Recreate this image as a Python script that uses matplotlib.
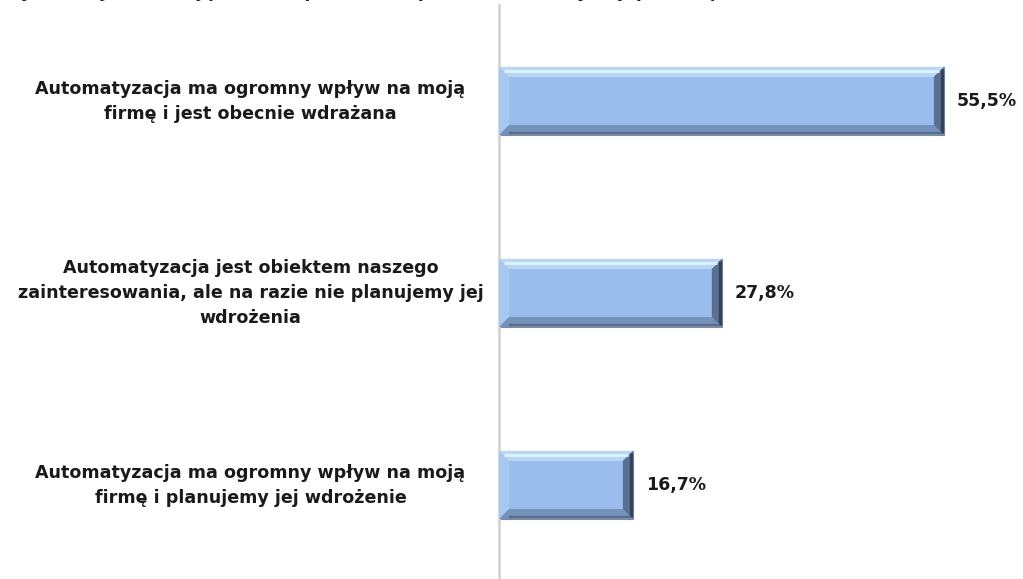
import matplotlib.pyplot as plt
from matplotlib.patches import Polygon

categories = [
    "Automatyzacja ma ogromny wpływ na moją\nfirmę i jest obecnie wdrażana",
    "Automatyzacja jest obiektem naszego\nzainteresowania, ale na razie nie planujemy jej\nwdrożenia",
    "Automatyzacja ma ogromny wpływ na moją\nfirmę i planujemy jej wdrożenie",
]
values = [55.5, 27.8, 16.7]
value_labels = ["55,5%", "27,8%", "16,7%"]
title = "Wykres 5. Jak oceniają Państwo planowanie procesu automatyzacji przedsiębiorstwa (N=18)"

W, H = 1023, 579
fig = plt.figure(figsize=(W / 100, H / 100), dpi=100)
ax = fig.add_axes([499 / W, -2 / H, 521 / W, 576 / H])

ypos = list(range(len(values)))
bar_h = 0.355
face = "#9BBDED"
ax.barh(ypos, values, height=bar_h, left=0, color=face, edgecolor="#7C8BA0",
        linewidth=0.8, zorder=2)
ax.set_xlim(0, 65)
ax.set_ylim(2.5, -0.5)

# bevel sizes in data units (about 10 px each way)
px_x = 65 / 521
px_y = 3 / 576
bx = 10 * px_x
by = 10 * px_y


def bevel(x0, x1, yc):
    top, bot = yc - bar_h / 2, yc + bar_h / 2
    pieces = [
        ([(x0, top), (x1, top), (x1 - bx, top + by), (x0 + bx, top + by)], "#B9D6F6"),
        ([(x0, top), (x0 + bx, top + by), (x0 + bx, bot - by), (x0, bot)], "#A9C8F0"),
        ([(x0, bot), (x0 + bx, bot - by), (x1 - bx, bot - by), (x1, bot)], "#7491BA"),
        ([(x1, top), (x1, bot), (x1 - bx, bot - by), (x1 - bx, top + by)], "#587091"),
    ]
    for pts, c in pieces:
        ax.add_patch(Polygon(pts, closed=True, facecolor=c, edgecolor="none", zorder=3))
    # light streak along the top bevel, dark rim on the right and bottom
    ax.plot([x0 + bx * 0.5, x1 - bx * 0.5], [top + by * 0.4, top + by * 0.4],
            color="#DDF0FF", lw=2.2, zorder=4, solid_capstyle="butt")
    ax.plot([x1 - 2 * px_x, x1 - 2 * px_x], [top + 2 * px_y, bot - 2 * px_y],
            color="#344159", lw=2.4, zorder=4, solid_capstyle="butt")
    ax.plot([x0 + bx, x1 - 2 * px_x], [bot - 2 * px_y, bot - 2 * px_y],
            color="#5A6C86", lw=1.6, zorder=4, solid_capstyle="butt")


for y, v, lab in zip(ypos, values, value_labels):
    bevel(0, v, y)
    ax.text(v + 1.6, y, lab, va="center", ha="left", fontsize=12.5,
            fontweight="bold", color="#1a1a1a")

for y, cat in zip(ypos, categories):
    ax.text(-31.0, y, cat, ha="center", va="center", multialignment="center",
            fontsize=12.6, fontweight="bold", color="#1a1a1a", linespacing=1.5)

for s in ["top", "right", "bottom"]:
    ax.spines[s].set_visible(False)
ax.spines["left"].set_color("#D4D4D4")
ax.spines["left"].set_linewidth(2)
ax.set_xticks([])
ax.set_yticks([])

# heading sits mostly above the canvas edge
fig.text(4 / W, 1 + 3 / H, title, ha="left", va="baseline", fontsize=12,
         fontweight="bold", style="italic", color="#1a1a1a")

fig.savefig("out.png", dpi=100)
